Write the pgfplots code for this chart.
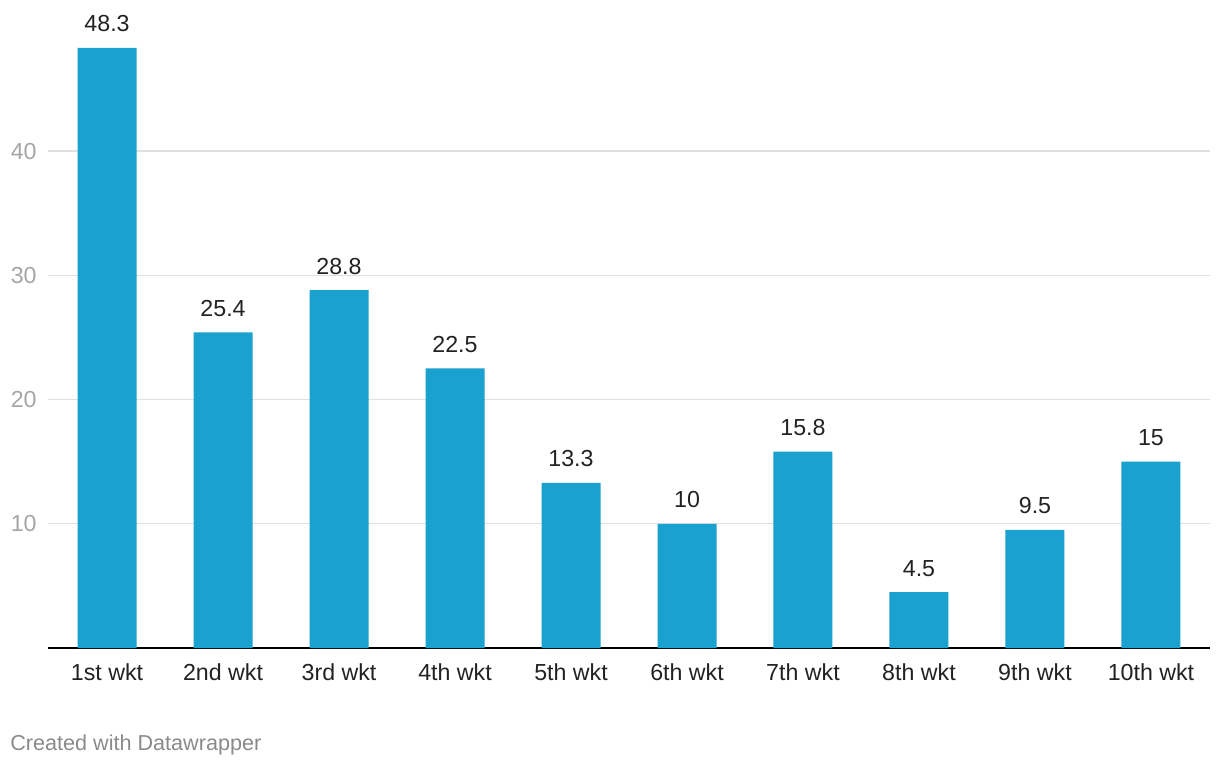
\documentclass[border=0pt]{standalone}
\usepackage{pgfplots}
\pgfplotsset{compat=1.18}
\usepackage{fontspec}
\setmainfont{Liberation Sans}
\definecolor{barblue}{HTML}{1AA1CF}
\definecolor{gridgray}{HTML}{E0E0E0}
\definecolor{ticktext}{HTML}{222222}
\definecolor{ygray}{HTML}{A6A6A6}
\definecolor{capgray}{HTML}{8A8A8A}
\begin{document}
\begin{tikzpicture}
\useasboundingbox (0,0) rectangle (610pt,384pt);
\begin{axis}[
  at={(24pt,60pt)}, anchor=south west,
  scale only axis,
  width=581pt, height=310.6pt,
  xmin=-0.509, xmax=9.509,
  ymin=0, ymax=50,
  clip=false,
  axis lines=left,
  axis line style={-},
  x axis line style={black, line width=1pt},
  y axis line style={draw=none},
  major tick length=0pt,
  xtick={0,...,9},
  xticklabels={1st wkt,2nd wkt,3rd wkt,4th wkt,5th wkt,6th wkt,7th wkt,8th wkt,9th wkt,10th wkt},
  ytick={10,20,30,40},
  ymajorgrids,
  grid style={gridgray, line width=0.6pt},
  /pgf/number format/assume math mode=true,
  tick label style={font=\fontsize{11.6}{13}\selectfont},
  xticklabel style={text=ticktext, anchor=base, yshift=-16pt},
  yticklabel style={text=ygray, anchor=east, inner sep=0pt, xshift=-5.5pt},
  ybar, bar width=29.5pt,
  point meta=explicit symbolic,
  nodes near coords,
  nodes near coords style={font=\fontsize{11.6}{13}\selectfont, text=ticktext, anchor=base, yshift=8pt},
]
\addplot[fill=barblue, draw=none] coordinates {
  (0,48.3) [48.3]
  (1,25.4) [25.4]
  (2,28.8) [28.8]
  (3,22.5) [22.5]
  (4,13.3) [13.3]
  (5,10) [10]
  (6,15.8) [15.8]
  (7,4.5) [4.5]
  (8,9.5) [9.5]
  (9,15) [15]
};
\end{axis}
\node[anchor=base west, inner sep=0pt, text=capgray, font=\fontsize{10.8}{12}\selectfont] at (5pt,9pt) {Created with Datawrapper};
\end{tikzpicture}
\end{document}
